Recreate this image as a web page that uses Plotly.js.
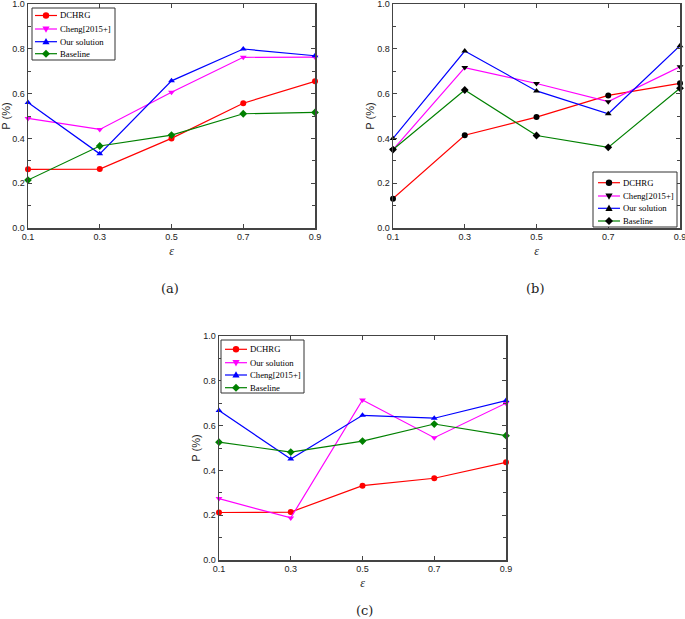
<!DOCTYPE html>
<html>
<head>
<meta charset="utf-8">
<script src="https://cdn.plot.ly/plotly-3.0.1.min.js"></script>
<style>html,body{margin:0;padding:0;background:#fff;}#chart{width:685px;height:619px;}</style>
</head>
<body>
<div id="chart"></div>
<script>
// ---- data ----
const epsilon = [0.1, 0.3, 0.5, 0.7, 0.9];
const xTickVals = [0.1, 0.3, 0.5, 0.7, 0.9];
const xTickText = ["0.1", "0.3", "0.5", "0.7", "0.9"];
const yTickVals = [0, 0.2, 0.4, 0.6, 0.8, 1.0];
const yTickText = ["0.0", "0.2", "0.4", "0.6", "0.8", "1.0"];

// panel (a)
const a_names    = ["DCHRG", "Cheng[2015+]", "Our solution", "Baseline"];
const a_DCHRG    = [0.262, 0.263, 0.400, 0.557, 0.655];
const a_Cheng    = [0.489, 0.440, 0.606, 0.762, 0.763];
const a_Our      = [0.560, 0.331, 0.657, 0.799, 0.769];
const a_Baseline = [0.214, 0.366, 0.415, 0.510, 0.516];

// panel (b)
const b_names    = ["DCHRG", "Cheng[2015+]", "Our solution", "Baseline"];
const b_DCHRG    = [0.131, 0.414, 0.495, 0.592, 0.646];
const b_Cheng    = [0.350, 0.716, 0.645, 0.564, 0.720];
const b_Our      = [0.400, 0.790, 0.612, 0.510, 0.814];
const b_Baseline = [0.350, 0.616, 0.413, 0.360, 0.624];

// panel (c)
const c_names    = ["DCHRG", "Our solution", "Cheng[2015+]", "Baseline"];
const c_DCHRG    = [0.212, 0.214, 0.332, 0.365, 0.436];
const c_Our      = [0.274, 0.188, 0.714, 0.546, 0.700];
const c_Cheng    = [0.667, 0.451, 0.646, 0.633, 0.712];
const c_Baseline = [0.526, 0.482, 0.531, 0.607, 0.555];

const RED = '#ff0000', MAG = '#ff00ff', BLUE = '#0000ff', GREEN = '#008000';
const lineColors = [RED, MAG, BLUE, GREEN];
const symbols = ['circle', 'triangle-down', 'triangle-up', 'diamond'];

function tr(name, y, i, xa, ya, markerColor) {
  return {
    x: epsilon, y: y, name: name, type: 'scatter', mode: 'lines+markers',
    xaxis: xa, yaxis: ya, showlegend: false, cliponaxis: false,
    line: {color: lineColors[i], width: 1.2},
    marker: {color: markerColor || lineColors[i], symbol: symbols[i], size: 6}
  };
}

const data = [];
[a_DCHRG, a_Cheng, a_Our, a_Baseline].forEach((s, i) => data.push(tr(a_names[i], s, i, 'x', 'y')));
[b_DCHRG, b_Cheng, b_Our, b_Baseline].forEach((s, i) => data.push(tr(b_names[i], s, i, 'x2', 'y2', '#000')));
[c_DCHRG, c_Our, c_Cheng, c_Baseline].forEach((s, i) => data.push(tr(c_names[i], s, i, 'x3', 'y3')));

const W = 685, H = 619;
const AX = '#444';
const tickFont = {family: 'Liberation Sans, Arial, sans-serif', size: 9, color: '#222'};
const px = p => p / W;
const py = p => 1 - p / H;

function xax(l, r, anchor) {
  return {
    domain: [px(l), px(r)], anchor: anchor, range: [0.1, 0.9],
    tickvals: xTickVals, ticktext: xTickText, ticks: 'inside', ticklen: 4,
    tickcolor: AX, showline: true, linecolor: AX, linewidth: 1.5, mirror: 'ticks',
    showgrid: false, zeroline: false, tickfont: tickFont, automargin: false,
    ticklabeloverflow: 'allow',
    title: {text: '<i>ε</i>', font: {family: 'Liberation Serif, serif', size: 12, color: '#222'}, standoff: 5}
  };
}
function yax(t, b, anchor) {
  return {
    domain: [py(b), py(t)], anchor: anchor, range: [0, 1],
    tickvals: yTickVals, ticktext: yTickText, ticks: 'inside', ticklen: 4,
    tickcolor: AX, showline: true, linecolor: AX, linewidth: 1.5, mirror: 'ticks',
    minor: {dtick: 0.1, tick0: 0, ticks: 'inside', ticklen: 3, tickcolor: AX},
    showgrid: false, zeroline: false, tickfont: tickFont, automargin: false,
    ticklabeloverflow: 'allow',
    title: {text: 'P (%)', font: {family: 'Liberation Sans, Arial, sans-serif', size: 11, color: '#222'}, standoff: 0}
  };
}

// ---- hand-built compact legends (box, line samples, marker glyphs, text) ----
const shapes = [];
const annotations = [];
function markerShape(sym, cx, cy, color) {
  const r = 3.2;
  const P = (x, y) => px(x) + ',' + py(y);
  let path;
  if (sym === 'circle') {
    shapes.push({type: 'circle', xref: 'paper', yref: 'paper', x0: px(cx - r), x1: px(cx + r),
      y0: py(cy + r), y1: py(cy - r), fillcolor: color, line: {width: 0}, layer: 'above'});
    return;
  } else if (sym === 'triangle-up') {
    path = 'M' + P(cx - 3.6, cy + 2.6) + ' L' + P(cx + 3.6, cy + 2.6) + ' L' + P(cx, cy - 3.8) + ' Z';
  } else if (sym === 'triangle-down') {
    path = 'M' + P(cx - 3.6, cy - 2.6) + ' L' + P(cx + 3.6, cy - 2.6) + ' L' + P(cx, cy + 3.8) + ' Z';
  } else {
    path = 'M' + P(cx, cy - 4) + ' L' + P(cx + 4, cy) + ' L' + P(cx, cy + 4) + ' L' + P(cx - 4, cy) + ' Z';
  }
  shapes.push({type: 'path', xref: 'paper', yref: 'paper', path: path, fillcolor: color,
    line: {width: 0}, layer: 'above'});
}
function legendBox(names, box, rows, lineX0, lineX1, textX, markerColor) {
  shapes.push({type: 'rect', xref: 'paper', yref: 'paper', x0: px(box[0]), x1: px(box[2]),
    y0: py(box[3]), y1: py(box[1]), line: {color: '#333', width: 1}, fillcolor: '#fff', layer: 'above'});
  names.forEach((n, i) => {
    const y = rows[i];
    shapes.push({type: 'line', xref: 'paper', yref: 'paper', x0: px(lineX0), x1: px(lineX1),
      y0: py(y), y1: py(y), line: {color: lineColors[i], width: 1.2}, layer: 'above'});
    markerShape(symbols[i], (lineX0 + lineX1) / 2, y, markerColor || lineColors[i]);
    annotations.push({text: n, xref: 'paper', yref: 'paper', x: px(textX), y: py(y),
      xanchor: 'left', yanchor: 'middle', showarrow: false,
      font: {family: 'Liberation Serif, Times New Roman, serif', size: 8.7, color: '#000'}});
  });
}
legendBox(a_names, [32, 8, 115, 60], [15.5, 29, 41.7, 53.7], 35, 57, 58);
legendBox(b_names, [593, 172, 677, 227], [182.7, 196, 208.3, 221], 598, 620, 621, '#000');
legendBox(c_names, [221, 340, 304, 393], [349.3, 362.7, 375, 387.7], 225, 247, 248);

const capFont = {family: 'DejaVu Serif, serif', size: 13, color: '#222'};
annotations.push(
  {text: '(a)', x: px(170), y: py(288), xref: 'paper', yref: 'paper', showarrow: false,
   xanchor: 'center', yanchor: 'middle', font: capFont},
  {text: '(b)', x: px(535), y: py(288), xref: 'paper', yref: 'paper', showarrow: false,
   xanchor: 'center', yanchor: 'middle', font: capFont},
  {text: '(c)', x: px(364), y: py(610), xref: 'paper', yref: 'paper', showarrow: false,
   xanchor: 'center', yanchor: 'middle', font: capFont}
);

const layout = {
  width: W, height: H,
  margin: {l: 0, r: 0, t: 0, b: 0},
  paper_bgcolor: '#fff', plot_bgcolor: '#fff',
  showlegend: false,
  xaxis: xax(28, 315, 'y'),
  yaxis: yax(4, 228, 'x'),
  xaxis2: xax(393, 680, 'y2'),
  yaxis2: yax(4, 228, 'x2'),
  xaxis3: xax(219, 506, 'y3'),
  yaxis3: yax(336, 560, 'x3'),
  shapes: shapes,
  annotations: annotations
};

Plotly.newPlot('chart', data, layout, {displayModeBar: false, staticPlot: true});
</script>
</body>
</html>
